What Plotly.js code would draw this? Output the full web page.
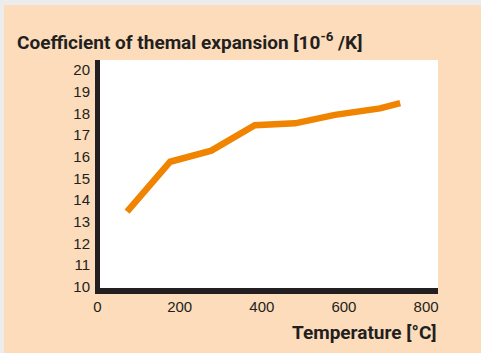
<!DOCTYPE html>
<html>
<head>
<meta charset="utf-8">
<script src="https://cdn.plot.ly/plotly-3.0.1.min.js"></script>
<style>
  html, body { margin: 0; padding: 0; background: #ECECEC; width: 481px; height: 353px; overflow: hidden; }
  #chart { position: absolute; left: 4px; top: 5px; width: 477px; height: 348px; }
</style>
</head>
<body>
<div id="chart"></div>
<script>
// Data
const temperature = [72, 177, 277, 383, 481, 578, 688, 737];      // °C
const cte = [13.47, 15.77, 16.28, 17.45, 17.54, 17.93, 18.23, 18.47]; // 10^-6 /K
const yTicks = [10, 11, 12, 13, 14, 15, 16, 17, 18, 19, 20];
const xTicks = [0, 200, 400, 600, 800];

const titleText = 'Coefficient of themal expansion [10<sup>-6</sup> /K]';
const xTitleText = 'Temperature [°C]';

const darkText = '#231F20';
const boldFont = 'Roboto, Liberation Sans, sans-serif';
const tickFontFamily = 'Liberation Sans, Arial, sans-serif';

const trace = {
  x: temperature,
  y: cte,
  type: 'scatter',
  mode: 'lines',
  line: { color: '#F08300', width: 6.5 },
  hoverinfo: 'skip'
};

const layout = {
  width: 477,
  height: 348,
  paper_bgcolor: '#FCDCBB',
  plot_bgcolor: '#FFFFFF',
  margin: { l: 91, r: 43, t: 55, b: 65, pad: 0 },
  showlegend: false,
  title: {
    text: titleText,
    font: { family: boldFont, size: 19, color: darkText, weight: 'bold' },
    xref: 'container', yref: 'container',
    x: 13 / 477, xanchor: 'left',
    y: 1 - 37 / 348, yanchor: 'middle'
  },
  xaxis: {
    range: [-6.1, 829],
    tickvals: xTicks,
    ticktext: xTicks.map(String),
    showgrid: false,
    zeroline: true,
    zerolinecolor: '#231F20',
    zerolinewidth: 5,
    showline: true,
    linecolor: '#231F20',
    linewidth: 6,
    ticks: '',
    tickfont: { family: tickFontFamily, size: 15, color: darkText },
    fixedrange: true
  },
  yaxis: {
    range: [9.95, 20.46],
    tickvals: yTicks,
    ticktext: yTicks.map(String),
    showgrid: false,
    zeroline: false,
    showline: false,
    ticks: '',
    ticklabelstandoff: 4,
    tickfont: { family: tickFontFamily, size: 15, color: darkText },
    fixedrange: true
  },
  annotations: [{
    text: xTitleText,
    xref: 'paper', yref: 'paper',
    x: 1, xanchor: 'right',
    y: -0.193, yanchor: 'middle',
    showarrow: false,
    font: { family: boldFont, size: 19, color: darkText, weight: 'bold' }
  }]
};

Plotly.newPlot('chart', [trace], layout, { staticPlot: true, displayModeBar: false });
</script>
</body>
</html>
